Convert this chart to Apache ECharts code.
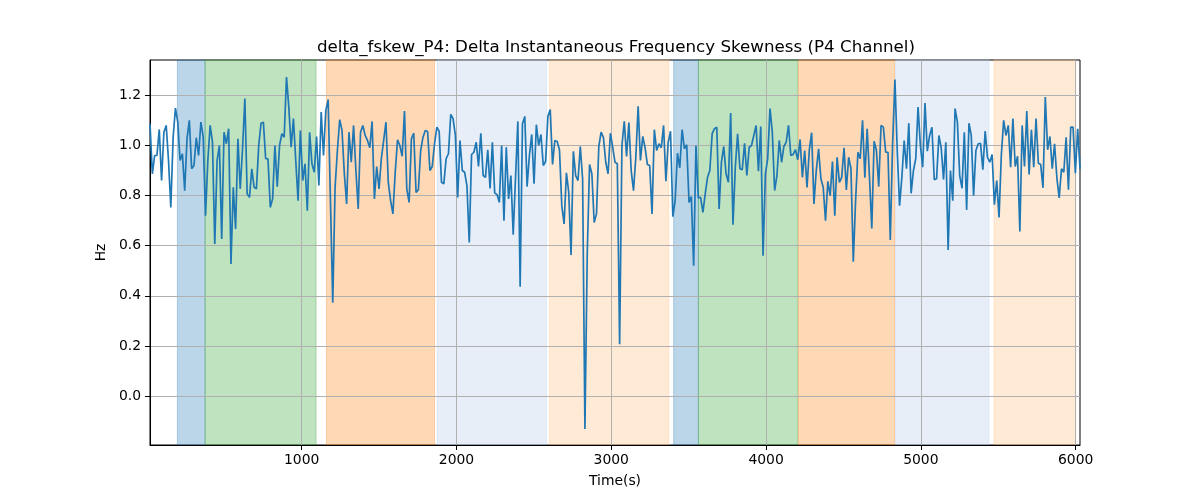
<!DOCTYPE html>
<html>
<head>
<meta charset="utf-8">
<script src="https://cdn.jsdelivr.net/npm/echarts@6/dist/echarts.min.js"></script>
<style>html,body{margin:0;padding:0;background:#fff;}#c{width:1200px;height:500px;}</style>
</head>
<body>
<div id="c"></div>
<script>
const TITLE = 'delta_fskew_P4: Delta Instantaneous Frequency Skewness (P4 Channel)';
const X_NAME = 'Time(s)';
const Y_NAME = 'Hz';
const T_FIRST = 20;
const T_LAST = 6028;
const xTicks = [1000, 2000, 3000, 4000, 5000, 6000];
const yTicks = [0.0, 0.2, 0.4, 0.6, 0.8, 1.0, 1.2];
const Y_MIN = -0.195;
const Y_MAX = 1.341;

const values = [
 1.087,0.887,0.960,0.960,1.064,0.860,1.053,1.080,0.940,0.753,
 1.033,1.149,1.093,0.940,0.967,0.820,1.027,1.100,0.907,0.920,
 1.031,0.960,1.093,1.033,0.720,0.940,1.080,1.013,0.607,0.940,
 1.000,0.627,1.053,1.007,1.067,0.527,0.833,0.667,1.027,0.827,
 0.987,1.187,0.807,0.793,0.907,0.833,0.827,1.000,1.089,1.093,
 0.947,0.947,0.753,0.787,1.000,0.836,1.000,1.047,1.033,1.273,
 1.153,0.993,1.107,0.940,0.780,1.060,0.860,0.927,0.740,
 1.053,0.927,0.893,1.036,0.840,1.133,0.960,1.140,1.183,0.780,
 0.373,0.833,0.980,1.103,1.060,0.887,0.767,1.053,0.933,1.080,
 0.900,0.747,1.053,1.080,1.040,1.020,0.991,1.096,0.787,0.916,
 0.827,0.947,1.020,1.093,0.853,0.780,0.727,0.893,1.023,1.000,
 0.957,1.137,0.827,0.773,1.027,1.049,0.813,0.823,0.980,1.033,
 1.060,1.056,0.900,0.916,1.007,1.073,1.056,0.853,0.847,0.947,
 0.967,1.124,1.107,1.040,0.793,1.020,
 0.900,0.893,0.840,0.613,0.964,0.973,1.013,0.916,1.049,0.880,
 0.873,0.983,0.829,1.013,0.811,0.804,0.773,1.000,0.700,0.993,
 0.787,0.880,0.644,0.870,1.096,0.436,1.087,1.116,0.836,0.960,
 1.044,0.847,1.083,1.000,1.044,0.920,0.936,1.116,1.143,0.924,
 1.020,1.016,0.983,0.760,0.687,0.891,0.813,0.563,0.977,0.880,
 0.860,0.996,0.867,-0.131,0.567,0.924,0.887,0.693,0.727,0.996,
 1.053,1.031,0.933,0.887,1.049,0.993,0.933,
 0.927,0.207,1.000,1.096,0.956,1.091,0.900,0.820,0.953,1.156,
 0.940,1.036,0.991,0.924,0.920,0.727,1.063,0.980,1.007,0.991,
 1.080,0.857,1.013,1.057,0.716,0.780,0.969,0.911,1.063,0.987,
 1.003,0.773,0.796,0.520,1.000,0.791,0.793,0.733,0.807,0.873,
 0.900,1.047,1.067,1.073,0.747,0.933,0.996,0.887,0.853,1.129,
 0.684,0.913,1.047,0.907,0.903,1.009,0.880,0.993,1.000,1.040,
 1.080,0.897,1.076,0.560,0.887,0.947,1.147,
 1.053,0.820,0.880,1.020,0.933,0.996,1.013,1.080,0.960,0.964,
 0.983,0.943,1.024,0.873,0.980,0.833,0.983,1.051,0.767,0.900,
 0.987,0.867,0.833,0.700,0.857,0.800,0.936,0.720,0.953,0.853,
 0.873,0.991,0.823,0.953,0.907,0.536,0.780,0.973,0.947,1.100,
 0.871,1.067,0.873,0.669,1.017,0.980,0.836,1.080,1.073,0.973,
 0.973,0.623,1.007,1.263,0.980,0.760,0.873,1.020,0.907,1.089,
 0.809,0.900,0.947,1.153,1.000,0.913,1.169,
 0.977,1.040,1.073,0.863,0.867,1.040,0.991,0.864,1.013,0.583,
 0.900,0.780,1.147,1.093,0.880,0.829,1.053,0.743,1.089,1.040,
 0.800,0.980,1.007,1.009,0.903,1.057,0.953,0.933,0.964,0.764,
 0.860,0.713,0.963,1.100,1.040,1.080,0.913,1.107,0.916,0.957,
 0.657,1.080,0.916,1.137,0.884,1.063,0.913,1.107,0.929,0.924,
 0.831,1.193,0.983,1.036,0.907,1.007,0.871,0.791,0.907,0.893,
 1.033,0.823,1.073,1.073,0.889,1.067,0.907
];

const regionStarts = [197, 376, 1160, 1875, 2601, 3403, 3563, 4209, 4836, 5472];
const regionEnds   = [376, 1093, 1858, 2582, 3371, 3563, 4205, 4830, 5440, 6000];
const regionKinds  = ['blue','green','orange','lightblue','lightorange','blue','green','orange','lightblue','lightorange'];

const kindColor = {
  blue: 'rgba(31,119,180,0.3)',
  green: 'rgba(44,160,44,0.3)',
  orange: 'rgba(255,127,14,0.3)',
  lightblue: 'rgba(174,199,232,0.3)',
  lightorange: 'rgba(255,187,120,0.3)'
};

const n = values.length;
const step = (T_LAST - T_FIRST) / (n - 1);
const lineData = values.map((v, i) => [T_FIRST + i * step, v]);

const areaData = regionStarts.map((s, i) => [
  { xAxis: s, itemStyle: { color: kindColor[regionKinds[i]], borderColor: kindColor[regionKinds[i]], borderWidth: 1 } },
  { xAxis: regionEnds[i] }
]);

const FONT = 'DejaVu Sans';
const chart = echarts.init(document.getElementById('c'), null, { renderer: 'canvas' });
chart.setOption({
  animation: false,
  backgroundColor: '#ffffff',
  title: {
    text: TITLE,
    left: 611,
    top: 34,
    textAlign: 'center',
    textStyle: { fontFamily: FONT, fontSize: 16.7, fontWeight: 'normal', color: '#000' }
  },
  grid: {
    left: 150, right: 120, top: 60, bottom: 55,
    show: true, borderColor: '#000', borderWidth: 1, backgroundColor: 'transparent'
  },
  xAxis: {
    type: 'value',
    min: T_FIRST, max: T_LAST,
    z: 1.5,
    name: X_NAME, nameLocation: 'middle', nameGap: 29,
    nameTextStyle: { fontFamily: FONT, fontSize: 13.9, color: '#000' },
    axisLine: { show: true, onZero: false, lineStyle: { color: '#000', width: 1 } },
    axisTick: { show: true, inside: false, length: 5, customValues: xTicks, lineStyle: { color: '#000', width: 1 } },
    axisLabel: { show: true, margin: 8, customValues: xTicks, fontFamily: FONT, fontSize: 13.9, color: '#000',
      formatter: v => String(Math.round(v)) },
    splitLine: { show: true, lineStyle: { color: '#b0b0b0', width: 1 } }
  },
  yAxis: {
    type: 'value',
    min: Y_MIN, max: Y_MAX,
    z: 1.5,
    name: Y_NAME, nameLocation: 'middle', nameGap: 38, nameRotate: 90,
    nameTextStyle: { fontFamily: FONT, fontSize: 13.9, color: '#000' },
    axisLine: { show: true, onZero: false, lineStyle: { color: '#000', width: 1 } },
    axisTick: { show: true, inside: false, length: 5, customValues: yTicks, lineStyle: { color: '#000', width: 1 } },
    axisLabel: { show: true, margin: 9, customValues: yTicks, fontFamily: FONT, fontSize: 13.9, color: '#000',
      formatter: v => Number(v).toFixed(1) },
    splitLine: { show: true, lineStyle: { color: '#b0b0b0', width: 1 } }
  },
  series: [
    {
      type: 'line',
      name: 'regions',
      data: [],
      silent: true,
      z: 1,
      markArea: { silent: true, data: areaData }
    },
    {
      type: 'line',
      name: 'delta_fskew_P4',
      data: lineData,
      z: 3,
      showSymbol: false,
      symbol: 'none',
      lineStyle: { color: '#1f77b4', width: 1.7 },
      itemStyle: { color: '#1f77b4' }
    }
  ]
});
</script>
</body>
</html>
